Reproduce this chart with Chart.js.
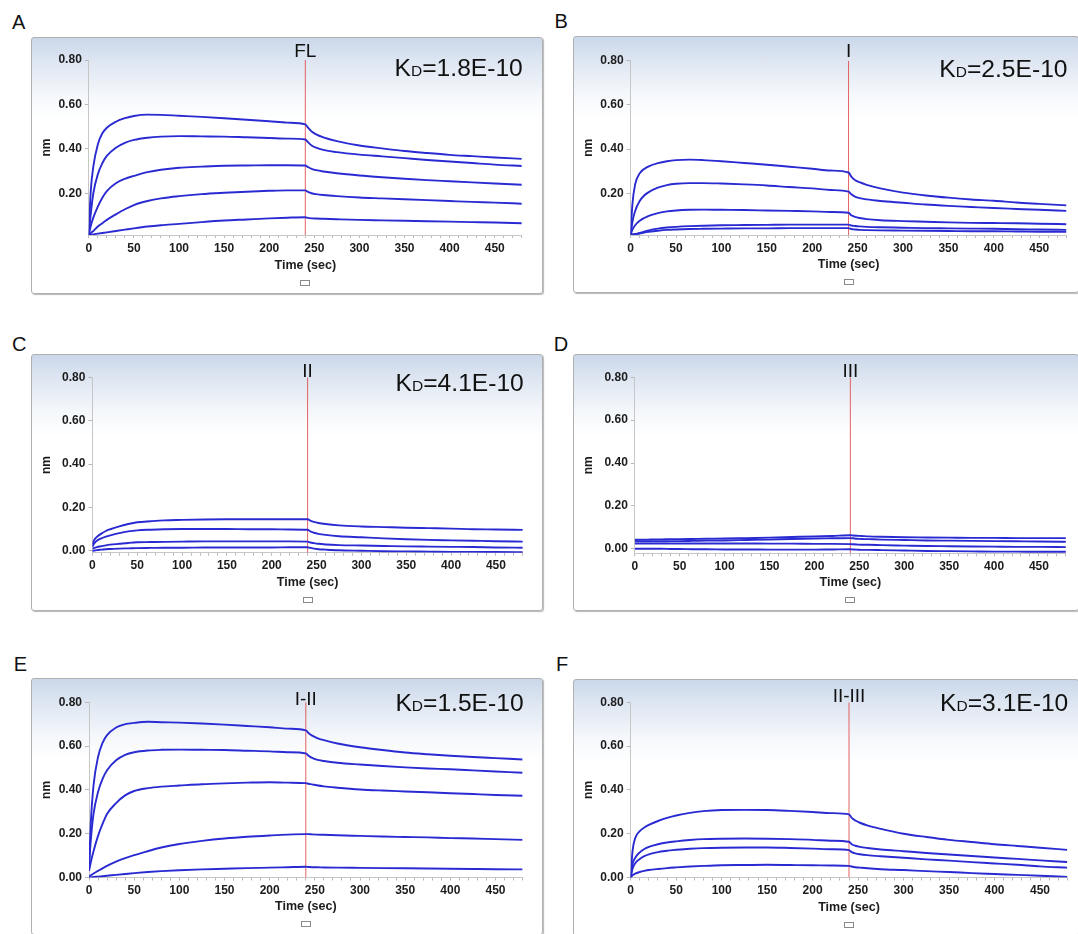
<!DOCTYPE html>
<html><head><meta charset="utf-8">
<script src="https://cdn.jsdelivr.net/npm/chart.js@4/dist/chart.umd.min.js"></script>
<style>
html,body{margin:0;padding:0;background:#fff;overflow:hidden;width:1078px;height:934px;}
.box{position:absolute;border:1px solid #b0b0b0;border-radius:3px;box-sizing:border-box;
 background:linear-gradient(to bottom,#cbd8ea 0%,#dfe7f2 10%,#f4f7fb 22%,#ffffff 32%);
 box-shadow:1px 1px 1px rgba(0,0,0,0.28);}
canvas{position:absolute;}
.lab{position:absolute;font:20px Arial,"Liberation Sans",sans-serif;line-height:20px;color:#111;}
</style></head><body>
<script>
// ---- data ----
const time = [0,2,5,10,15,20,30,40,50,65,80,100,125,150,175,200,220,240,243,247,252,260,275,300,325,350,375,400,425,450,480];

const A1 = [0.012,0.2,0.32,0.42,0.47,0.495,0.522,0.538,0.548,0.554,0.553,0.549,0.544,0.538,0.531,0.524,0.518,0.51,0.495,0.478,0.465,0.452,0.435,0.415,0.402,0.39,0.381,0.373,0.367,0.361,0.355];
const A2 = [0.012,0.1,0.2,0.285,0.335,0.368,0.405,0.427,0.44,0.45,0.455,0.457,0.456,0.455,0.452,0.449,0.446,0.442,0.43,0.415,0.405,0.395,0.385,0.374,0.366,0.358,0.35,0.343,0.336,0.329,0.323];
const A3 = [0.012,0.05,0.09,0.14,0.18,0.21,0.245,0.265,0.278,0.295,0.306,0.315,0.32,0.324,0.325,0.326,0.326,0.325,0.318,0.31,0.304,0.298,0.29,0.28,0.272,0.265,0.259,0.254,0.249,0.244,0.238];
const A4 = [0.012,0.02,0.03,0.05,0.065,0.08,0.105,0.128,0.147,0.165,0.177,0.187,0.196,0.202,0.207,0.211,0.213,0.213,0.206,0.2,0.196,0.192,0.187,0.181,0.177,0.173,0.169,0.165,0.161,0.158,0.153];
const A5 = [0.012,0.013,0.015,0.018,0.021,0.024,0.03,0.036,0.042,0.05,0.056,0.062,0.07,0.077,0.082,0.087,0.09,0.092,0.089,0.087,0.086,0.085,0.083,0.08,0.078,0.076,0.074,0.072,0.07,0.068,0.065];

const B1 = [0.012,0.15,0.24,0.29,0.31,0.322,0.336,0.345,0.35,0.352,0.35,0.345,0.337,0.329,0.32,0.311,0.303,0.294,0.275,0.26,0.25,0.238,0.222,0.203,0.19,0.18,0.172,0.166,0.158,0.152,0.145];
const B2 = [0.012,0.07,0.12,0.165,0.19,0.205,0.225,0.237,0.243,0.246,0.246,0.244,0.24,0.235,0.228,0.222,0.215,0.207,0.195,0.185,0.178,0.172,0.165,0.157,0.149,0.143,0.138,0.133,0.129,0.125,0.12];
const B3 = [0.012,0.035,0.055,0.075,0.088,0.098,0.11,0.118,0.122,0.125,0.126,0.125,0.124,0.122,0.12,0.118,0.115,0.112,0.1,0.093,0.088,0.083,0.078,0.074,0.071,0.068,0.066,0.065,0.064,0.062,0.06];
const B4 = [0.012,0.013,0.015,0.02,0.026,0.032,0.04,0.045,0.048,0.051,0.053,0.055,0.056,0.057,0.058,0.058,0.058,0.058,0.054,0.052,0.05,0.048,0.046,0.044,0.042,0.041,0.04,0.039,0.037,0.036,0.034];
const B5 = [0.012,0.013,0.015,0.018,0.022,0.025,0.03,0.034,0.036,0.038,0.039,0.04,0.041,0.041,0.042,0.042,0.042,0.042,0.038,0.036,0.034,0.033,0.032,0.031,0.03,0.029,0.028,0.028,0.027,0.026,0.025];

const C1 = [0.03,0.05,0.065,0.08,0.092,0.1,0.113,0.124,0.132,0.137,0.141,0.143,0.145,0.146,0.146,0.146,0.146,0.146,0.14,0.134,0.129,0.124,0.118,0.113,0.11,0.107,0.105,0.103,0.1,0.099,0.097];
const C2 = [0.02,0.035,0.047,0.058,0.066,0.072,0.082,0.09,0.095,0.098,0.1,0.101,0.101,0.101,0.1,0.1,0.099,0.098,0.09,0.084,0.079,0.074,0.068,0.063,0.058,0.054,0.051,0.049,0.047,0.045,0.043];
const C3 = [0.01,0.014,0.018,0.022,0.026,0.029,0.033,0.037,0.04,0.041,0.042,0.043,0.044,0.044,0.044,0.044,0.044,0.043,0.039,0.036,0.033,0.03,0.027,0.025,0.023,0.021,0.02,0.019,0.018,0.016,0.015];
const C4 = [0,0.002,0.004,0.006,0.008,0.009,0.011,0.012,0.013,0.014,0.015,0.015,0.016,0.016,0.016,0.016,0.017,0.017,0.014,0.011,0.008,0.006,0.003,0.001,-0.001,-0.002,-0.003,-0.004,-0.004,-0.005,-0.006];

const D1 = [0.042,0.042,0.043,0.043,0.043,0.044,0.044,0.045,0.045,0.046,0.047,0.048,0.05,0.052,0.055,0.058,0.06,0.063,0.062,0.061,0.06,0.058,0.056,0.054,0.053,0.052,0.051,0.051,0.05,0.05,0.05];
const D2 = [0.035,0.035,0.035,0.035,0.035,0.035,0.035,0.036,0.036,0.037,0.038,0.039,0.041,0.043,0.046,0.048,0.049,0.05,0.049,0.047,0.046,0.045,0.043,0.041,0.039,0.038,0.037,0.036,0.035,0.034,0.033];
const D3 = [0.025,0.025,0.025,0.025,0.025,0.025,0.025,0.025,0.025,0.025,0.025,0.025,0.025,0.024,0.024,0.023,0.023,0.022,0.021,0.02,0.019,0.019,0.017,0.015,0.013,0.012,0.011,0.01,0.009,0.009,0.008];
const D4 = [0,0,0,0,0,0,0,-0.001,-0.001,-0.002,-0.002,-0.003,-0.003,-0.004,-0.004,-0.004,-0.003,-0.002,-0.003,-0.004,-0.005,-0.005,-0.006,-0.008,-0.01,-0.011,-0.012,-0.013,-0.013,-0.014,-0.014];

const E1 = [0.05,0.25,0.42,0.55,0.615,0.65,0.685,0.7,0.706,0.711,0.709,0.707,0.703,0.698,0.692,0.686,0.68,0.672,0.66,0.648,0.638,0.627,0.612,0.595,0.582,0.571,0.563,0.556,0.55,0.545,0.539];
const E2 = [0.05,0.17,0.29,0.39,0.45,0.49,0.535,0.56,0.572,0.58,0.583,0.584,0.583,0.582,0.579,0.576,0.572,0.567,0.556,0.546,0.538,0.532,0.524,0.516,0.509,0.503,0.498,0.494,0.489,0.484,0.478];
const E3 = [0.03,0.07,0.12,0.19,0.245,0.29,0.34,0.375,0.395,0.408,0.415,0.42,0.426,0.43,0.433,0.435,0.433,0.431,0.428,0.425,0.421,0.416,0.41,0.402,0.397,0.393,0.389,0.385,0.381,0.377,0.373];
const E4 = [0.005,0.01,0.018,0.03,0.042,0.053,0.072,0.088,0.102,0.12,0.137,0.153,0.167,0.178,0.186,0.192,0.196,0.198,0.198,0.197,0.196,0.195,0.193,0.19,0.187,0.185,0.183,0.18,0.178,0.175,0.172];
const E5 = [0,0.001,0.002,0.004,0.006,0.008,0.012,0.016,0.02,0.025,0.029,0.033,0.037,0.04,0.043,0.045,0.047,0.049,0.048,0.047,0.047,0.046,0.045,0.044,0.043,0.042,0.041,0.04,0.039,0.038,0.037];

const F1 = [0,0.12,0.18,0.212,0.228,0.24,0.258,0.272,0.283,0.295,0.303,0.308,0.309,0.308,0.304,0.299,0.294,0.288,0.272,0.26,0.25,0.238,0.222,0.2,0.185,0.172,0.162,0.152,0.144,0.136,0.126];
const F2 = [0,0.06,0.09,0.115,0.13,0.14,0.152,0.16,0.165,0.171,0.175,0.177,0.178,0.177,0.175,0.172,0.168,0.163,0.152,0.145,0.14,0.135,0.128,0.12,0.112,0.105,0.098,0.091,0.085,0.078,0.071];
const F3 = [0,0.04,0.065,0.085,0.098,0.106,0.116,0.122,0.127,0.131,0.134,0.136,0.137,0.137,0.135,0.132,0.129,0.125,0.116,0.11,0.106,0.102,0.097,0.09,0.083,0.077,0.07,0.064,0.058,0.051,0.045];
const F4 = [0,0.01,0.018,0.025,0.03,0.034,0.039,0.043,0.046,0.05,0.053,0.056,0.057,0.058,0.057,0.056,0.055,0.053,0.05,0.047,0.045,0.042,0.038,0.034,0.029,0.025,0.02,0.016,0.012,0.008,0.003];

const panelLetters = ['A','B','C','D','E','F'];
const constructNames = ['FL','I','II','III','I-II','II-III'];
const kdValues = ['1.8E-10','2.5E-10','4.1E-10',null,'1.5E-10','3.1E-10'];
const panelSeries = [[A1,A2,A3,A4,A5],[B1,B2,B3,B4,B5],[C1,C2,C3,C4],[D1,D2,D3,D4],[E1,E2,E3,E4,E5],[F1,F2,F3,F4]];
const yTickValues = [0,0.2,0.4,0.6,0.8];
const yMins = [0.012,0.011,-0.008,-0.021,0,0];
const yMax = 0.8;
const timeMin = 0, timeMax = 480;
const xMinorStep = 10, xLabelStep = 50;
const dissociationStart = 240;
const xTitle = 'Time (sec)', yTitle = 'nm';

// ---- layout (positions & sizes only) ----
const layoutCfg = [
 {left:31, top:37, w:512, h:257, pl:57.8, pr:490.8, pt:23,   pb:198,   tOff:-8.3, kOff:16,   letter:[12,29.3]},
 {left:573,top:36, w:506, h:257, pl:57.6, pr:493.5, pt:24.7, pb:199,   tOff:-9,   kOff:16,   letter:[554.5,28.3]},
 {left:31, top:354,w:512, h:257, pl:61.4, pr:491.8, pt:23.3, pb:198.7, tOff:-5.3, kOff:13.7, letter:[12,350.7]},
 {left:573,top:354,w:506, h:257, pl:61.8, pr:492.9, pt:23.3, pb:199.3, tOff:-5.6, kOff:13.7, letter:[553.8,350.7]},
 {left:31, top:678,w:512, h:257, pl:58,   pr:491.6, pt:24.3, pb:199.5, tOff:-2.5, kOff:8.4,  letter:[13.8,670.7]},
 {left:573,top:679,w:506, h:257, pl:57.7, pr:494.3, pt:23.3, pb:198.5, tOff:-5.8, kOff:9,    letter:[556,671.3]}
];
const FONT = 'Arial, "Liberation Sans", sans-serif';
Chart.defaults.font.family = FONT;

const annotPlugin = {
  id:'annot',
  afterDraw(chart, args, o){
    const ctx = chart.ctx, ca = chart.chartArea;
    const xs = chart.scales.x;
    ctx.save();
    ctx.fillStyle = '#111';
    ctx.font = '19px ' + FONT;
    ctx.textAlign = 'center'; ctx.textBaseline = 'middle';
    ctx.fillText(o.name, xs.getPixelForValue(dissociationStart), ca.top + o.tOff);
    if (o.kd){
      const sx = 1.07;
      ctx.textBaseline = 'alphabetic'; ctx.textAlign = 'left';
      const big = '23px ' + FONT, small = '14.5px ' + FONT;
      const rest = '=' + o.kd;
      ctx.font = big; const wK = ctx.measureText('K').width, wR = ctx.measureText(rest).width;
      ctx.font = small; const wD = ctx.measureText('D').width;
      const total = (wK + wD + wR) * sx;
      const y = ca.top + o.kOff;
      ctx.translate(ca.right + 1 - total, y);
      ctx.scale(sx, 1);
      let x = 0;
      ctx.font = big; ctx.fillText('K', x, 0); x += wK;
      ctx.font = small; ctx.fillText('D', x, 0); x += wD;
      ctx.font = big; ctx.fillText(rest, x, 0);
    }
    ctx.restore();
    // empty legend swatch
    ctx.save();
    const lx = Math.round((ca.left + ca.right) / 2), ly = 246;
    ctx.fillStyle = '#fff'; ctx.strokeStyle = '#8a8a8a'; ctx.lineWidth = 1;
    ctx.fillRect(lx - 4.5, ly - 2.5, 9, 5);
    ctx.strokeRect(lx - 4.5, ly - 2.5, 9, 5);
    ctx.restore();
  }
};

panelSeries.forEach((series, i) => {
  const L = layoutCfg[i];
  const box = document.createElement('div');
  box.className = 'box';
  Object.assign(box.style, {left:L.left+'px', top:L.top+'px', width:L.w+'px', height:L.h+'px'});
  document.body.appendChild(box);
  const lab = document.createElement('div');
  lab.className = 'lab'; lab.textContent = panelLetters[i];
  lab.style.left = L.letter[0] + 'px'; lab.style.top = (L.letter[1] - 16.9) + 'px';
  document.body.appendChild(lab);
  const cv = document.createElement('canvas');
  cv.width = L.w; cv.height = L.h;
  cv.style.left = L.left + 'px'; cv.style.top = L.top + 'px';
  cv.style.width = L.w + 'px'; cv.style.height = L.h + 'px';
  document.body.appendChild(cv);

  const yMin = yMins[i];
  const datasets = series.map(s => ({
    data: time.map((t, k) => ({x:t, y:s[k]})),
    borderColor:'#2a2ad2', borderWidth:1.9, pointRadius:0,
    cubicInterpolationMode:'monotone', fill:false
  }));
  datasets.push({
    data:[{x:dissociationStart, y:yMin},{x:dissociationStart, y:yMax}],
    borderColor:'rgba(226,80,80,0.9)', borderWidth:1, pointRadius:0, fill:false
  });

  new Chart(cv, {
    type:'line',
    data:{datasets},
    plugins:[annotPlugin],
    options:{
      responsive:false, animation:false, events:[],
      layout:{padding:{left:0, top:L.pt, right:L.w - L.pr, bottom:0}},
      plugins:{legend:{display:false}, tooltip:{enabled:false},
        annot:{name:constructNames[i], kd:kdValues[i], tOff:L.tOff, kOff:L.kOff}},
      scales:{
        x:{
          type:'linear', min:timeMin, max:timeMax,
          afterFit(s){ s.height = L.h - L.pb; },
          border:{color:'#c6c6c6', width:1},
          grid:{drawOnChartArea:false, tickLength:3, color:'#b9b9b9'},
          ticks:{stepSize:xMinorStep, autoSkip:false, maxRotation:0, padding:3,
            font:{size:12, weight:'bold'}, color:'#1c1c1c',
            callback:v => (v % xLabelStep === 0 ? String(v) : '')},
          title:{display:true, text:xTitle, font:{size:12.5, weight:'bold'}, color:'#1c1c1c',
            padding:{top:0, bottom:(L.h - 228.5 - 7.5)}}
        },
        y:{
          type:'linear', min:yMin, max:yMax,
          afterFit(s){ s.width = L.pl; },
          afterBuildTicks(s){ s.ticks = yTickValues.filter(v => v >= s.min - 1e-9).map(v => ({value:v})); },
          border:{color:'#c6c6c6', width:1, dash:[1,1]},
          grid:{drawOnChartArea:false, tickLength:4, color:'#b9b9b9'},
          ticks:{padding:3, font:{size:12, weight:'bold'}, color:'#1c1c1c', callback:v => Number(v).toFixed(2)},
          title:{display:true, text:yTitle, font:{size:12, weight:'bold'}, color:'#1c1c1c', padding:{top:8, bottom:0}}
        }
      }
    }
  });
});
</script>
</body></html>
